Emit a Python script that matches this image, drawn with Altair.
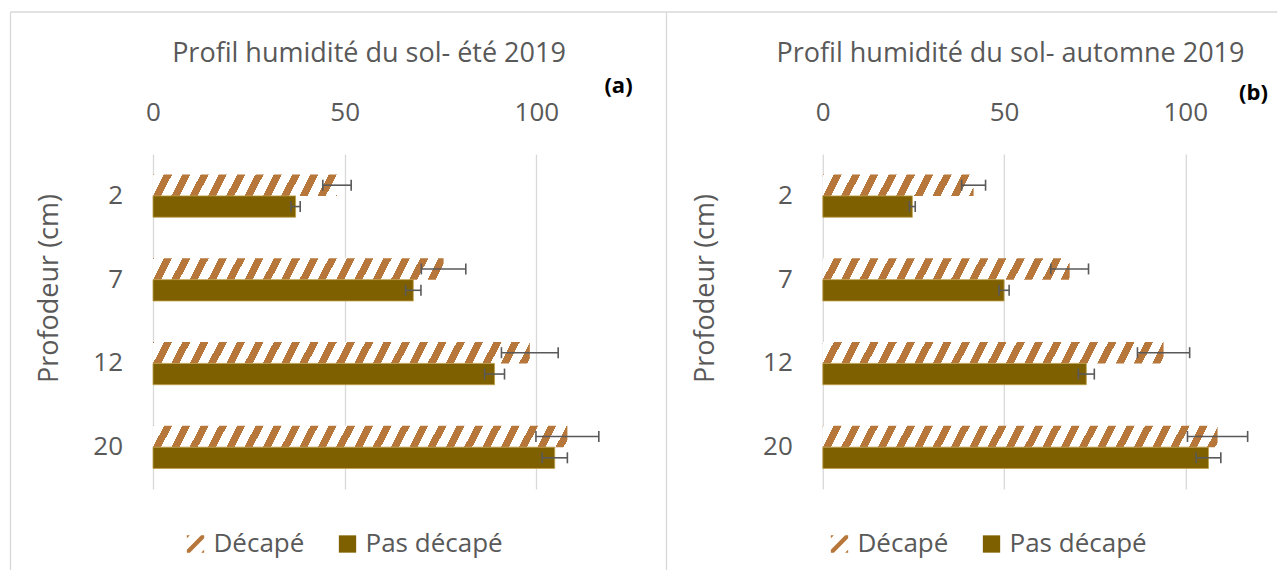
import altair as alt
import pandas as pd

# ---------------- data ----------------
depths = ["2", "7", "12", "20"]
series = ["Décapé", "Pas décapé"]

ete_decape = [48.0, 75.8, 98.3, 108.1]
ete_decape_err = [3.7, 5.8, 7.4, 8.2]
ete_pas = [37.2, 67.9, 89.1, 104.8]
ete_pas_err = [1.2, 2.0, 2.6, 3.3]

aut_decape = [41.6, 68.1, 94.0, 108.9]
aut_decape_err = [3.3, 5.2, 7.2, 8.3]
aut_pas = [24.7, 50.0, 72.7, 106.4]
aut_pas_err = [0.8, 1.4, 2.2, 3.4]

x_ticks = [0, 50, 100]
x_max = 120

# ---------------- style ----------------
FONT = "Open Sans"
GREY = "#595959"
GRID = "#D9D9D9"
HATCH = "#B7763A"
SOLID = "#7F6000"
HATCH_PATH = ("M -1 0.65 L 0.65 -1 L 1 -1 L 1 -0.65 L -0.65 1 L -1 1 Z "
              "M -1 -1 L -0.65 -1 L -1 -0.65 Z M 1 1 L 0.65 1 L 1 0.65 Z")
PLOT_H = 335


def hatch_gradient(value, px_per_unit, shift=11.0, period=18.3, frac=0.44):
    """Diagonal stripes '/' as a linear gradient in the bar's bounding box."""
    w = value * px_per_unit
    a = shift / w
    k = (1 + a) / (1 + a * a)
    L = w + shift
    stops = [alt.GradientStop(offset=0, color="white")]
    n = -2
    while True:
        start = shift + n * period
        end = start + frac * period
        if start > L:
            break
        s0, s1 = max(start, 0.0), min(end, L)
        if s1 > s0:
            o0, o1 = s0 / L, s1 / L
            stops += [
                alt.GradientStop(offset=o0, color="white"),
                alt.GradientStop(offset=o0, color=HATCH),
                alt.GradientStop(offset=o1, color=HATCH),
                alt.GradientStop(offset=o1, color="white"),
            ]
        n += 1
    stops.append(alt.GradientStop(offset=1, color="white"))
    return alt.LinearGradient(gradient="linear", stops=stops,
                              x1=0, y1=0, x2=k, y2=k * a)


def panel(title, dec, dec_err, pas, pas_err, width, title_x, ytitle_x,
          legend_x, tag, tag_x, tag_y, border):
    px_per_unit = width / x_max
    df = pd.DataFrame({
        "depth": depths * 2,
        "series": [series[0]] * len(depths) + [series[1]] * len(depths),
        "value": dec + pas,
        "err": dec_err + pas_err,
    })

    def X(field):
        return alt.X(
            f"{field}:Q",
            scale=alt.Scale(domain=[0, x_max], nice=False, zero=True),
            axis=alt.Axis(
                orient="top", values=x_ticks, grid=True, gridColor=GRID,
                gridWidth=1.3, domain=False, ticks=False, tickSize=0,
                labelFont=FONT, labelFontSize=26, labelColor=GREY,
                labelPadding=29, labelFlush=False, title=None,
            ),
        )

    Y = alt.Y(
        "depth:N", sort=depths,
        scale=alt.Scale(paddingInner=0.49, paddingOuter=0.245),
        axis=alt.Axis(
            domain=False, ticks=False, tickSize=0, grid=False,
            labelFont=FONT, labelFontSize=26, labelColor=GREY,
            labelPadding=30.5, labelAngle=0,
            title="Profodeur (cm)", titleFont=FONT, titleFontSize=27,
            titleFontWeight="normal", titleColor=GREY, titleAngle=270,
            titleX=ytitle_x, titleY=134, titleAlign="center",
            titleBaseline="alphabetic",
        ),
    )
    YO = alt.YOffset("series:N", sort=series,
                     scale=alt.Scale(domain=series, paddingInner=0, paddingOuter=0))

    base = alt.Chart(df).encode(y=Y, yOffset=YO)

    layers = []
    # hatched bars (one gradient per bar so that stripes keep the same pitch)
    for d, v in zip(depths, dec):
        layers.append(
            base.transform_filter(
                (alt.datum.depth == d) & (alt.datum.series == series[0])
            ).mark_bar(fill=hatch_gradient(v, px_per_unit)).encode(x=X("value"))
        )
    # solid bars
    layers.append(
        base.transform_filter(alt.datum.series == series[1])
        .mark_bar(fill=SOLID, stroke="#BFA04A", strokeWidth=0.8)
        .encode(x=X("value"))
    )
    # error bars
    eb = base.transform_calculate(lo="datum.value - datum.err",
                                  hi="datum.value + datum.err")
    layers.append(eb.mark_rule(color=GREY, strokeWidth=1.6)
                  .encode(x=X("lo"), x2="hi:Q"))
    layers.append(eb.mark_tick(orient="vertical", size=11, thickness=1.6,
                               color=GREY, opacity=1).encode(x=X("lo")))
    layers.append(eb.mark_tick(orient="vertical", size=11, thickness=1.6,
                               color=GREY, opacity=1).encode(x=X("hi")))

    # legend (symbols only, no drawn points)
    leg = alt.Legend(
        orient="none", legendX=legend_x, legendY=377, direction="horizontal",
        title=None, labelFont=FONT, labelFontSize=26, labelColor=GREY,
        symbolSize=300, symbolStrokeWidth=0, symbolOpacity=1,
        columnPadding=30, labelOffset=5, padding=0,
    )
    layers.append(
        alt.Chart(df).transform_filter("false")
        .mark_point(filled=True, opacity=1)
        .encode(
            x=X("value"), y=Y, yOffset=YO,
            color=alt.Color("series:N",
                            scale=alt.Scale(domain=series, range=[HATCH, SOLID]),
                            legend=leg),
            shape=alt.Shape("series:N",
                            scale=alt.Scale(domain=series, range=[HATCH_PATH, "square"]),
                            legend=leg),
        )
    )

    # chart title and panel tag
    one = pd.DataFrame({"title": [title], "tag": [tag]})
    layers.append(
        alt.Chart(one).mark_text(font=FONT, fontSize=27, color=GREY,
                                 align="center", baseline="alphabetic")
        .encode(text="title:N", x=alt.value(title_x), y=alt.value(-92))
    )
    layers.append(
        alt.Chart(one).mark_text(font=FONT, fontSize=22, fontWeight="bold",
                                 color="black", align="center", baseline="middle")
        .encode(text="tag:N", x=alt.value(tag_x), y=alt.value(tag_y))
    )

    # chart-area border lines
    bx0, bx1, by0, by1, draw_left, draw_right = border
    layers.append(
        alt.Chart(one).mark_rule(color=GRID, strokeWidth=1.3)
        .encode(x=alt.value(bx0), x2=alt.value(bx1), y=alt.value(by0))
    )
    if draw_left:
        layers.append(
            alt.Chart(one).mark_rule(color=GRID, strokeWidth=1.3)
            .encode(x=alt.value(bx0), y=alt.value(by0), y2=alt.value(by1))
        )
    if draw_right:
        layers.append(
            alt.Chart(one).mark_rule(color=GRID, strokeWidth=1.3)
            .encode(x=alt.value(bx1), y=alt.value(by0), y2=alt.value(by1))
        )

    return alt.layer(*layers).properties(width=width, height=PLOT_H)


panel_a = panel(
    "Profil humidité du sol- été 2019", ete_decape, ete_decape_err,
    ete_pas, ete_pas_err, width=460, title_x=216, ytitle_x=-96,
    legend_x=29.5, tag="(a)", tag_x=465.5, tag_y=-68,
    border=(-142.5, 513.5, -142, 416, True, True),
)
panel_b = panel(
    "Profil humidité du sol- automne 2019", aut_decape, aut_decape_err,
    aut_pas, aut_pas_err, width=435, title_x=187.7, ytitle_x=-109.5,
    legend_x=3.7, tag="(b)", tag_x=430.7, tag_y=-61,
    border=(-156.3, 454.5, -142, 416, False, False),
)

chart = (
    alt.hconcat(panel_a, panel_b, spacing=209.8, bounds="flush")
    .resolve_scale(x="independent", y="independent",
                   color="independent", shape="independent")
    .resolve_legend(color="independent", shape="independent")
    .properties(padding={"left": 1, "top": 3, "right": 0, "bottom": 0},
                background="white")
    .configure_view(strokeWidth=0, stroke="transparent")
)

chart.save("out.html", embed_options={"renderer": "svg", "actions": False})
